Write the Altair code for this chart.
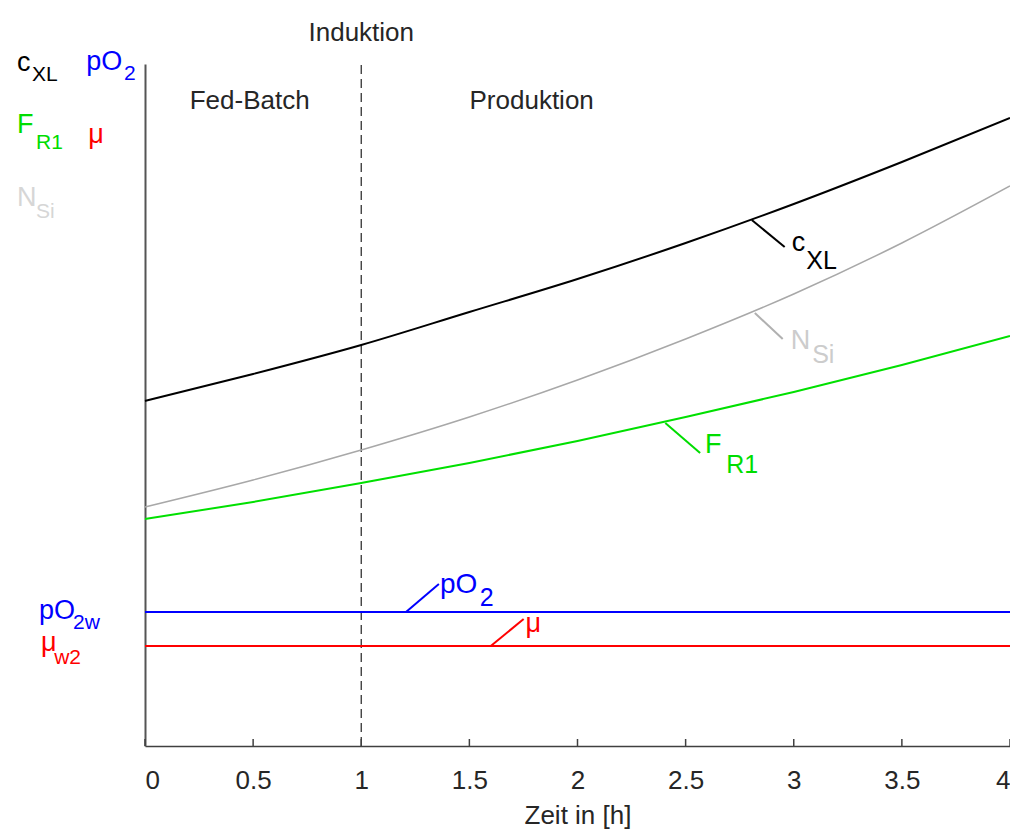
import altair as alt
import pandas as pd

# ---- data ----
t = [0, 0.5, 1, 1.5, 2, 2.5, 3, 3.5, 4]
c_xl = [345, 372, 401, 434, 467, 503, 542, 584, 628]
n_si = [239, 266, 296, 329, 366, 407, 452, 503, 560]
f_r1 = [227, 244, 263, 283, 305, 329, 354, 381, 410]
po2 = [134] * 9
mu = [100] * 9

series_names = ["cXL", "NSi", "FR1", "pO2", "mu"]
series_vals = [c_xl, n_si, f_r1, po2, mu]
series_colors = ["#000000", "#a8a8a8", "#00e000", "#0000ff", "#ff0000"]
series_widths = [2, 1.5, 2, 2, 2]

tick_vals = [0, 0.5, 1, 1.5, 2, 2.5, 3, 3.5, 4]
induction_t = 1

# labels with subscripts (main letters + subscripts as separate pieces)
lab_text = ["c", "XL", "pO", "2", "F", "R1", "μ", "N", "Si",
            "pO", "2w", "μ", "w2",
            "c", "XL", "N", "Si", "F", "R1", "pO", "2", "μ"]
lab_t = [-0.592, -0.523, -0.272, -0.097, -0.592, -0.504, -0.263, -0.592, -0.504,
         -0.490, -0.333, -0.481, -0.420,
         2.991, 3.058, 2.986, 3.085, 2.590, 2.688, 1.364, 1.548, 1.760]
lab_v = [675, 665, 676, 666, 613, 597, 603, 540, 528,
         127, 117, 95, 82,
         495, 477, 397, 383, 293, 273, 153, 140, 114]
lab_color = ["#000000", "#000000", "#0000ff", "#0000ff", "#00dd00", "#00dd00", "#ff0000",
             "#d6d6d6", "#d6d6d6",
             "#0000ff", "#0000ff", "#ff0000", "#ff0000",
             "#000000", "#000000", "#cccccc", "#cccccc", "#00dd00", "#00dd00",
             "#0000ff", "#0000ff", "#ff0000"]
lab_size = [27, 21, 27, 21, 27, 21, 27, 27, 21,
            27, 21, 27, 21,
            27, 25, 27, 25, 27, 25, 28, 25, 27]

# leader lines
lead_t = [2.806, 2.820, 2.406, 1.207, 1.599]
lead_v = [526, 433, 323, 134, 100]
lead_t2 = [2.958, 2.949, 2.567, 1.359, 1.751]
lead_v2 = [499, 407, 293, 162, 127]
lead_color = ["#000000", "#b0b0b0", "#00dd00", "#0000ff", "#ff0000"]

# phase labels
phase_text = ["Induktion", "Fed-Batch", "Produktion"]
phase_t = [1.0, 0.484, 1.788]
phase_v = [705, 637, 637]

Y_TOP = 682

# ---- tables ----
rows = []
for name, vals, w in zip(series_names, series_vals, series_widths):
    for ti, vi in zip(t, vals):
        rows.append({"t": ti, "v": vi, "series": name, "w": w})
curves = pd.DataFrame(rows)

labels = pd.DataFrame({"t": lab_t, "v": lab_v, "text": lab_text,
                       "color": lab_color, "size": lab_size})
leaders = pd.DataFrame({"t": lead_t, "v": lead_v, "t2": lead_t2, "v2": lead_v2,
                        "color": lead_color})
phases = pd.DataFrame({"t": phase_t, "v": phase_v, "text": phase_text})
ticks = pd.DataFrame({"t": tick_vals, "v": [0] * len(tick_vals), "v2": [7] * len(tick_vals)})
induct = pd.DataFrame({"t": [induction_t], "v": [0], "v2": [Y_TOP]})

xs = alt.Scale(domain=[0, 4], nice=False)
ys = alt.Scale(domain=[0, Y_TOP], nice=False)
FONT = "Liberation Sans"

lines = alt.Chart(curves).mark_line(interpolate="monotone", clip=False).encode(
    x=alt.X("t:Q", scale=xs, title="Zeit in [h]",
            axis=alt.Axis(values=tick_vals, format="~g", ticks=False, grid=False,
                          domainColor="#404040", domainWidth=1.5,
                          labelFont=FONT, labelFontSize=26, labelColor="#262626",
                          labelPadding=21, labelFlush=True,
                          titleFont=FONT, titleFontSize=26,
                          titleColor="#262626", titleFontWeight="normal",
                          titleY=77, titleBaseline="alphabetic")),
    y=alt.Y("v:Q", scale=ys, title="",
            axis=alt.Axis(labels=False, ticks=False, grid=False,
                          domainColor="#555555", domainWidth=2)),
    color=alt.Color("series:N", scale=alt.Scale(domain=series_names, range=series_colors),
                    legend=None),
    strokeWidth=alt.StrokeWidth("w:Q", scale=None),
)

tick_rules = alt.Chart(ticks).mark_rule(color="#404040", strokeWidth=1.5).encode(
    x=alt.X("t:Q", scale=xs, title="Zeit in [h]"),
    y=alt.Y("v:Q", scale=ys, title=""),
    y2="v2:Q",
)

induct_rule = alt.Chart(induct).mark_rule(color="#333333", strokeWidth=1.3,
                                          strokeDash=[9, 5]).encode(
    x=alt.X("t:Q", scale=xs, title="Zeit in [h]"),
    y=alt.Y("v:Q", scale=ys, title=""),
    y2="v2:Q",
)

leader_rules = alt.Chart(leaders).mark_rule(strokeWidth=2, clip=False).encode(
    x=alt.X("t:Q", scale=xs, title="Zeit in [h]"),
    y=alt.Y("v:Q", scale=ys, title=""),
    x2="t2:Q",
    y2="v2:Q",
    color=alt.Color("color:N", scale=None),
)

label_text = alt.Chart(labels).mark_text(align="left", baseline="alphabetic",
                                         font=FONT, clip=False).encode(
    x=alt.X("t:Q", scale=xs, title="Zeit in [h]"),
    y=alt.Y("v:Q", scale=ys, title=""),
    text="text:N",
    color=alt.Color("color:N", scale=None),
    size=alt.Size("size:Q", scale=None),
)

phase_labels = alt.Chart(phases).mark_text(align="center", baseline="alphabetic",
                                           font=FONT, fontSize=26, color="#262626",
                                           clip=False).encode(
    x=alt.X("t:Q", scale=xs, title="Zeit in [h]"),
    y=alt.Y("v:Q", scale=ys, title=""),
    text="text:N",
)

chart = alt.layer(
    induct_rule, lines, tick_rules, leader_rules, label_text, phase_labels
).properties(
    width=865,
    height=Y_TOP,
    padding={"left": 137, "top": 56, "right": 0, "bottom": 83},
    autosize=alt.AutoSizeParams(type="none"),
    background="white",
).configure_view(strokeWidth=0)

chart.save("out.html", embed_options={"renderer": "svg", "actions": False})
